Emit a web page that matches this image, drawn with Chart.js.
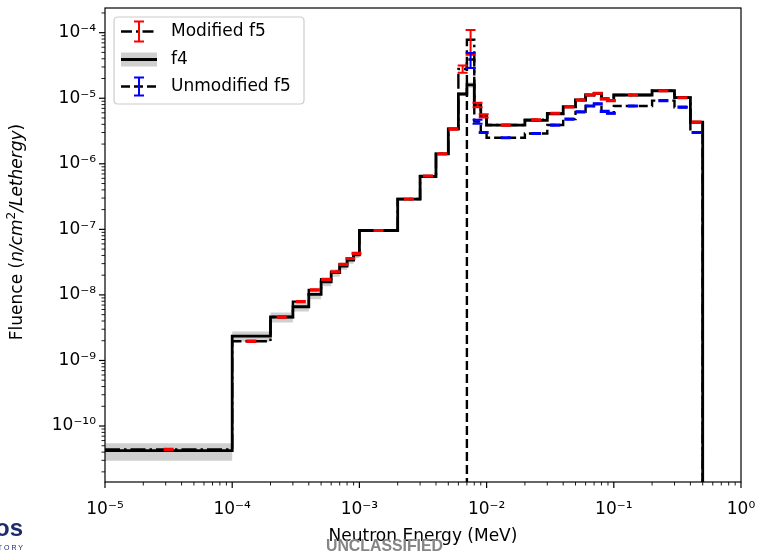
<!DOCTYPE html>
<html><head><meta charset="utf-8">
<script src="https://cdn.jsdelivr.net/npm/chart.js@4.4.1/dist/chart.umd.min.js"></script>
<style>html,body{margin:0;padding:0;background:#fff}#wrap{width:757px;height:551px}canvas{display:block}</style>
</head><body><div id="wrap"><canvas id="c" width="757" height="551"></canvas></div>
<script>
// ---------------- data ----------------
const binEdges = [1e-5, 1e-4, 2e-4, 3e-4, 4e-4, 5e-4, 6e-4, 7e-4, 8e-4, 9e-4,
  1e-3, 2e-3, 3e-3, 4e-3, 5e-3, 6e-3, 7e-3, 8e-3, 9e-3,
  1e-2, 2e-2, 3e-2, 4e-2, 5e-2, 6e-2, 7e-2, 8e-2, 9e-2,
  1e-1, 2e-1, 3e-1, 4e-1, 5e-1];

const f4Values = [4.2e-11, 2.35e-9, 4.6e-9, 6.6e-9, 1.02e-8, 1.58e-8, 2.18e-8, 2.76e-8, 3.4e-8, 4.1e-8,
  9.6e-8, 2.9e-7, 6.4e-7, 1.42e-6, 3.4e-6, 1.16e-5, 1.6e-5, 7.9e-6, 5.4e-6,
  3.9e-6, 4.6e-6, 5.8e-6, 7.4e-6, 9.4e-6, 1.12e-5, 1.19e-5, 9.8e-6, 9.2e-6,
  1.12e-5, 1.3e-5, 1.02e-5, 4.3e-6];
const f4Errors = [1.25e-11, 0.42e-9, 0.8e-9, 1.0e-9, 1.6e-9, 2.2e-9, 2.8e-9, 3.4e-9, 4.0e-9, 4.5e-9,
  5e-9, 1.2e-8, 2.5e-8, 5e-8, 1.2e-7, 8e-7, 1.5e-6, 2.4e-7, 1.6e-7,
  1.2e-7, 1.4e-7, 1.7e-7, 2.2e-7, 2.8e-7, 3.4e-7, 3.6e-7, 3.0e-7, 2.8e-7,
  3.4e-7, 3.9e-7, 3.1e-7, 1.3e-7];

const modF5Values = [4.4e-11, 1.96e-9, 4.6e-9, 7.9e-9, 1.19e-8, 1.73e-8, 2.26e-8, 2.93e-8, 3.6e-8, 4.3e-8,
  9.6e-8, 2.9e-7, 6.5e-7, 1.42e-6, 3.4e-6, 2.8e-5, 7.8e-5, 7.9e-6, 5.4e-6,
  3.9e-6, 4.7e-6, 5.9e-6, 7.4e-6, 9.4e-6, 1.12e-5, 1.19e-5, 9.8e-6, 9.2e-6,
  1.12e-5, 1.3e-5, 1.02e-5, 4.3e-6];
const modF5Errors = [0.1e-11, 0.05e-9, 0.1e-9, 0.15e-9, 0.25e-9, 0.35e-9, 0.45e-9, 0.6e-9, 0.7e-9, 0.9e-9,
  1.5e-9, 5e-9, 1.2e-8, 3e-8, 1e-7, 3.5e-6, 3.2e-5, 6e-7, 3e-7,
  8e-8, 9e-8, 1.2e-7, 1.5e-7, 1.9e-7, 2.2e-7, 2.4e-7, 2.0e-7, 1.8e-7,
  2.2e-7, 2.6e-7, 2.0e-7, 1.2e-7];

const unmodF5Values = [0, 0, 0, 0, 0, 0, 0, 0, 0, 0,
  0, 0, 0, 0, 0, 0, 3.9e-5, 4.4e-6, 3.0e-6,
  2.5e-6, 2.9e-6, 3.9e-6, 4.8e-6, 6.2e-6, 7.6e-6, 8.2e-6, 6.3e-6, 5.9e-6,
  7.6e-6, 9.2e-6, 7.3e-6, 3.0e-6];
const unmodF5Errors = [0, 0, 0, 0, 0, 0, 0, 0, 0, 0,
  0, 0, 0, 0, 0, 0, 1.0e-5, 3e-7, 6e-8,
  5e-8, 6e-8, 8e-8, 1e-7, 1.2e-7, 1.5e-7, 1.6e-7, 1.3e-7, 1.2e-7,
  1.5e-7, 1.8e-7, 1.5e-7, 6e-8];

const xDecades = [-5, -4, -3, -2, -1, 0];
const xTickLabels = ['10⁻⁵', '10⁻⁴', '10⁻³', '10⁻²', '10⁻¹', '10⁰'];
const yDecades = [-10, -9, -8, -7, -6, -5, -4];
const yTickLabels = ['10⁻¹⁰', '10⁻⁹', '10⁻⁸', '10⁻⁷', '10⁻⁶', '10⁻⁵', '10⁻⁴'];
const xRange = [1e-5, 1];
const yRange = [1.4e-11, 2.38e-4];

const legendLabels = ['Modified f5', 'f4', 'Unmodified f5'];
const xTitle = 'Neutron Energy (MeV)';
const yTitleParts = ['Fluence (', 'n/cm', '2', '/Lethergy', ')'];
const classification = 'UNCLASSIFIED';
const logoWords = ['Los Alamos', 'NATIONAL LABORATORY'];

// ---------------- helpers ----------------
const FONT = "'DejaVu Sans', 'Liberation Sans', sans-serif";
const BELOW_AXIS = 1e-30; // zero flux: drawn below the axis, as matplotlib clips it

function stepPoints(values, errors, sign, dropAtEnd) {
  const pts = [];
  for (let i = 0; i < values.length; i++) {
    let v = values[i] > 0 ? values[i] + sign * (errors ? errors[i] : 0) : BELOW_AXIS;
    pts.push({ x: binEdges[i], y: v });
  }
  pts.push({ x: binEdges[binEdges.length - 1], y: pts[pts.length - 1].y });
  if (dropAtEnd) pts.push({ x: binEdges[binEdges.length - 1], y: BELOW_AXIS });
  return pts;
}

function lineDs(label, data, color, width, dash) {
  return { label, data, borderColor: color, borderWidth: width, borderDash: dash,
    pointRadius: 0, fill: false, stepped: 'before', tension: 0,
    borderCapStyle: 'butt', borderJoinStyle: 'miter' };
}

const datasets = [
  lineDs('Modified f5', stepPoints(modF5Values, null, 0, true), '#000', 2.4, [15, 4, 2.5, 4]),
  lineDs('Unmodified f5', stepPoints(unmodF5Values, null, 0, true), '#000', 2.4, [9, 4]),
  lineDs('f4', stepPoints(f4Values, null, 0, true), '#000', 2.8, []),
  { label: 'f4 upper', data: stepPoints(f4Values, f4Errors, 1, false), borderWidth: 0, borderColor: 'rgba(0,0,0,0)',
    pointRadius: 0, stepped: 'before', fill: '+1', backgroundColor: '#cfcfcf' },
  { label: 'f4 lower', data: stepPoints(f4Values, f4Errors, -1, false), borderWidth: 0, borderColor: 'rgba(0,0,0,0)',
    pointRadius: 0, stepped: 'before', fill: false }
];

function labelFor(decades, labels) {
  return (v) => {
    const l = Math.log10(v);
    const i = decades.findIndex(d => Math.abs(d - l) < 1e-6);
    return i >= 0 ? labels[i] : '';
  };
}

function drawErrBars(ctx, xs, ys, values, errors, color) {
  ctx.strokeStyle = color; ctx.lineWidth = 2;
  for (let i = 0; i < values.length; i++) {
    if (!(values[i] > 0)) continue;
    const xc = xs.getPixelForValue(Math.sqrt(binEdges[i] * binEdges[i + 1]));
    const yt = ys.getPixelForValue(values[i] + errors[i]);
    const lo = values[i] - errors[i];
    const yb = lo > 0 ? ys.getPixelForValue(lo) : ys.bottom + 50;
    ctx.beginPath();
    ctx.moveTo(xc, yt); ctx.lineTo(xc, yb);
    ctx.moveTo(xc - 5, yt); ctx.lineTo(xc + 5, yt);
    ctx.moveTo(xc - 5, yb); ctx.lineTo(xc + 5, yb);
    ctx.stroke();
  }
}

function drawLogTicks(ctx, scale, horizontal, a) {
  const lo = Math.floor(Math.log10(scale.min)), hi = Math.ceil(Math.log10(scale.max));
  ctx.strokeStyle = '#000';
  for (let d = lo; d <= hi; d++) {
    for (let k = 1; k <= 9; k++) {
      const v = k * Math.pow(10, d);
      if (v < scale.min * 0.9999 || v > scale.max * 1.0001) continue;
      const p = scale.getPixelForValue(v);
      const len = k === 1 ? 6 : 3.5;
      ctx.lineWidth = k === 1 ? 1.2 : 0.9;
      ctx.beginPath();
      if (horizontal) { ctx.moveTo(p, a.bottom); ctx.lineTo(p, a.bottom + len); }
      else { ctx.moveTo(a.left, p); ctx.lineTo(a.left - len, p); }
      ctx.stroke();
    }
  }
}

function roundRect(ctx, x, y, w, h, r) {
  ctx.beginPath();
  ctx.moveTo(x + r, y); ctx.lineTo(x + w - r, y); ctx.quadraticCurveTo(x + w, y, x + w, y + r);
  ctx.lineTo(x + w, y + h - r); ctx.quadraticCurveTo(x + w, y + h, x + w - r, y + h);
  ctx.lineTo(x + r, y + h); ctx.quadraticCurveTo(x, y + h, x, y + h - r);
  ctx.lineTo(x, y + r); ctx.quadraticCurveTo(x, y, x + r, y); ctx.closePath();
}

const extras = {
  id: 'extras',
  afterDatasetsDraw(chart) {
    const { ctx, chartArea: a, scales: { x, y } } = chart;
    ctx.save();
    ctx.beginPath(); ctx.rect(a.left, a.top, a.right - a.left, a.bottom - a.top); ctx.clip();
    drawErrBars(ctx, x, y, modF5Values, modF5Errors, '#ff0000');
    drawErrBars(ctx, x, y, unmodF5Values, unmodF5Errors, '#0000ff');
    ctx.restore();
  },
  afterDraw(chart) {
    const { ctx, chartArea: a, scales: { x, y } } = chart;
    ctx.save();
    // frame
    ctx.strokeStyle = '#000'; ctx.lineWidth = 1.2;
    ctx.strokeRect(a.left, a.top, a.right - a.left, a.bottom - a.top);
    drawLogTicks(ctx, x, true, a);
    drawLogTicks(ctx, y, false, a);

    // legend
    const lx = 114, ly = 17, lw = 190, lh = 87;
    ctx.fillStyle = 'rgba(255,255,255,0.8)';
    roundRect(ctx, lx, ly, lw, lh, 4); ctx.fill();
    ctx.strokeStyle = '#cccccc'; ctx.lineWidth = 1.2; ctx.stroke();
    const rows = [31.5, 59.5, 86.5];
    const hx0 = 121, hx1 = 157, hxc = 139;
    // row 1 modified f5
    ctx.strokeStyle = '#000'; ctx.lineWidth = 2.4; ctx.setLineDash([11, 4, 2.5, 4]);
    ctx.beginPath(); ctx.moveTo(hx0, rows[0]); ctx.lineTo(hx1, rows[0]); ctx.stroke();
    ctx.setLineDash([]);
    ctx.strokeStyle = '#ff0000'; ctx.lineWidth = 2;
    ctx.beginPath(); ctx.moveTo(hxc, rows[0] - 10); ctx.lineTo(hxc, rows[0] + 10);
    ctx.moveTo(hxc - 5, rows[0] - 10); ctx.lineTo(hxc + 5, rows[0] - 10);
    ctx.moveTo(hxc - 5, rows[0] + 10); ctx.lineTo(hxc + 5, rows[0] + 10); ctx.stroke();
    // row 2 f4
    ctx.fillStyle = '#cfcfcf'; ctx.fillRect(hx0, rows[1] - 7, hx1 - hx0, 14);
    ctx.strokeStyle = '#000'; ctx.lineWidth = 2.8;
    ctx.beginPath(); ctx.moveTo(hx0, rows[1]); ctx.lineTo(hx1, rows[1]); ctx.stroke();
    // row 3 unmodified f5
    ctx.lineWidth = 2.4; ctx.setLineDash([9, 4]);
    ctx.beginPath(); ctx.moveTo(hx0, rows[2]); ctx.lineTo(hx1, rows[2]); ctx.stroke();
    ctx.setLineDash([]);
    ctx.strokeStyle = '#0000ff'; ctx.lineWidth = 2;
    ctx.beginPath(); ctx.moveTo(hxc, rows[2] - 9); ctx.lineTo(hxc, rows[2] + 9);
    ctx.moveTo(hxc - 5, rows[2] - 9); ctx.lineTo(hxc + 5, rows[2] - 9);
    ctx.moveTo(hxc - 5, rows[2] + 9); ctx.lineTo(hxc + 5, rows[2] + 9); ctx.stroke();
    ctx.fillStyle = '#000'; ctx.font = '17px ' + FONT; ctx.textBaseline = 'middle'; ctx.textAlign = 'left';
    legendLabels.forEach((t, i) => ctx.fillText(t, 171, rows[i]));

    // y title with italic math part
    const styles = [
      { f: '17px ' + FONT, dy: 0 },
      { f: 'oblique 17px ' + FONT, dy: 0 },
      { f: '12px ' + FONT, dy: -6 },
      { f: 'oblique 17px ' + FONT, dy: 0 },
      { f: '17px ' + FONT, dy: 0 }
    ];
    ctx.save();
    ctx.translate(18, 232); ctx.rotate(-Math.PI / 2);
    let total = 0; const widths = [];
    yTitleParts.forEach((t, i) => { ctx.font = styles[i].f; widths[i] = ctx.measureText(t).width; total += widths[i]; });
    let xx = -total / 2;
    ctx.textBaseline = 'middle';
    yTitleParts.forEach((t, i) => { ctx.font = styles[i].f; ctx.fillText(t, xx, styles[i].dy); xx += widths[i]; });
    ctx.restore();

    // classification banner
    ctx.fillStyle = '#858585'; ctx.textAlign = 'left'; ctx.textBaseline = 'alphabetic';
    ctx.font = "bold 17px 'Liberation Sans Narrow', 'Liberation Sans', sans-serif";
    ctx.fillText(classification, 326, 551, 117);
    // logo fragment
    ctx.fillStyle = '#1c2a6e'; ctx.textAlign = 'right';
    ctx.font = "bold 24px 'Liberation Sans Narrow', 'Liberation Sans', sans-serif";
    ctx.fillText(logoWords[0], 23, 536);
    ctx.font = "7px 'Liberation Sans', sans-serif";
    try { ctx.letterSpacing = '2px'; } catch (e) {}
    ctx.fillText(logoWords[1], 25, 549.5);
    ctx.restore();
  }
};

Chart.defaults.color = '#000';
Chart.defaults.font.family = FONT;

new Chart(document.getElementById('c'), {
  type: 'line',
  data: { datasets },
  plugins: [extras],
  options: {
    responsive: false, animation: false, devicePixelRatio: 1, events: [],
    layout: { padding: { left: 0, right: 16, top: 8, bottom: 0 } },
    plugins: { legend: { display: false }, tooltip: { enabled: false }, filler: { propagate: false } },
    scales: {
      x: {
        type: 'logarithmic', min: xRange[0], max: xRange[1], offset: false,
        border: { display: false },
        grid: { display: false, drawTicks: false },
        afterBuildTicks: (s) => { s.ticks = xDecades.map(d => ({ value: Math.pow(10, d) })); },
        afterFit: (s) => { s.height = 69; s.paddingLeft = 0; s.paddingRight = 0; },
        ticks: { autoSkip: false, maxRotation: 0, minRotation: 0, padding: 17, color: '#000',
          font: { size: 17, family: FONT }, callback: labelFor(xDecades, xTickLabels) },
        title: { display: true, text: xTitle, color: '#000', font: { size: 17, family: FONT },
          padding: { top: 0, bottom: 4 } }
      },
      y: {
        type: 'logarithmic', min: yRange[0], max: yRange[1],
        border: { display: false },
        grid: { display: false, drawTicks: false },
        afterBuildTicks: (s) => { s.ticks = yDecades.map(d => ({ value: Math.pow(10, d) })); },
        afterFit: (s) => { s.width = 105; s.paddingTop = 0; s.paddingBottom = 0; },
        ticks: { autoSkip: false, padding: 9, color: '#000',
          font: { size: 17, family: FONT }, callback: labelFor(yDecades, yTickLabels) }
      }
    }
  }
});
</script>
</body></html>
